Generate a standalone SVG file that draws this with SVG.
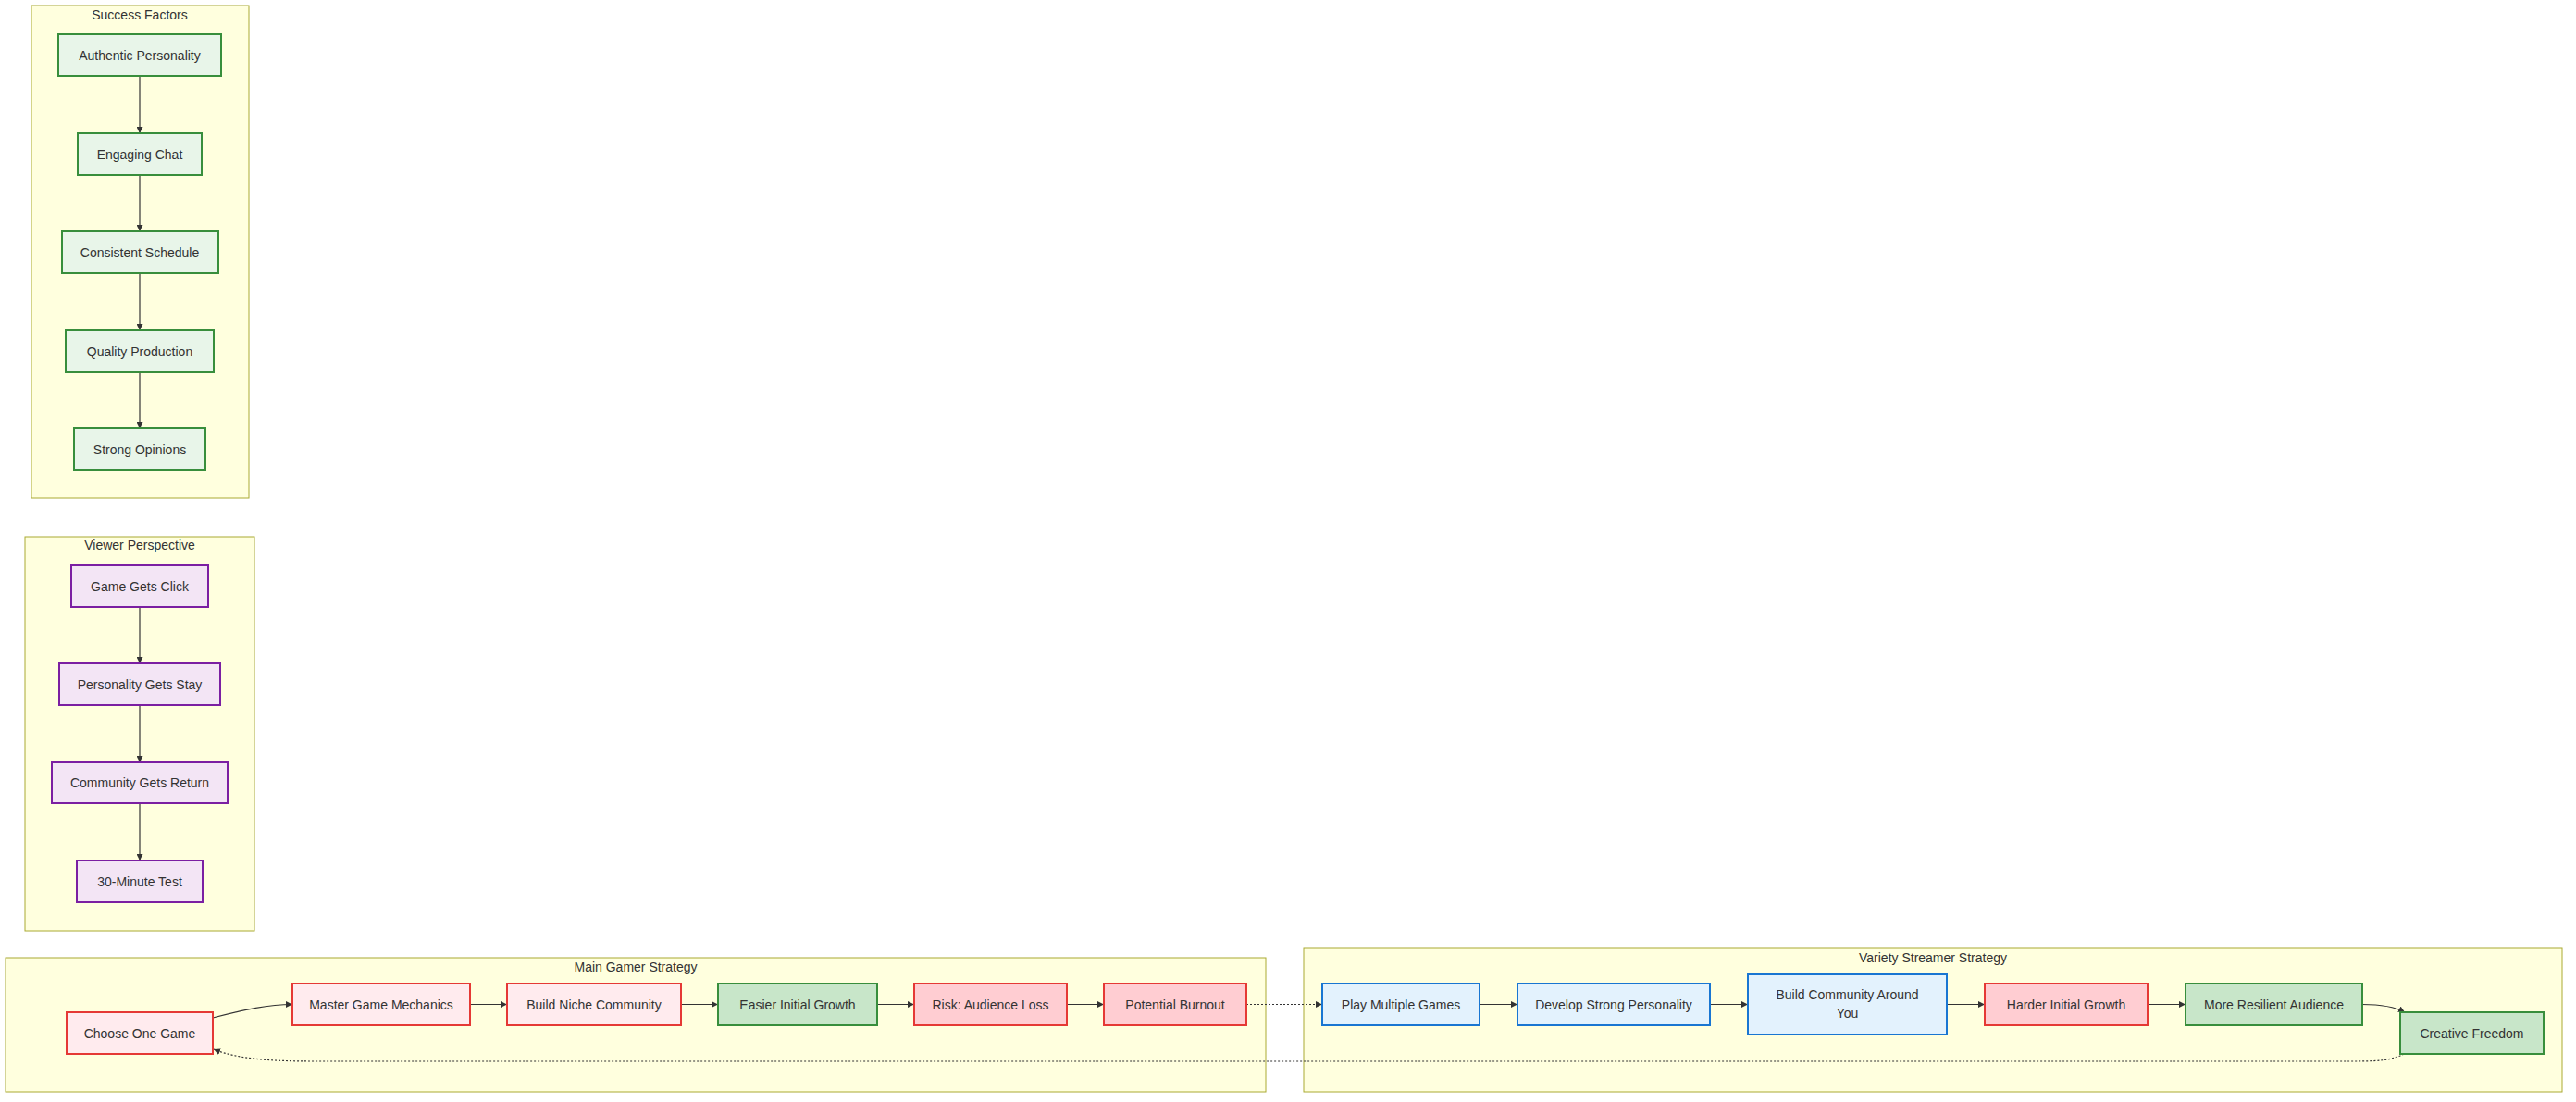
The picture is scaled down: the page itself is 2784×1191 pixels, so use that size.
<svg xmlns="http://www.w3.org/2000/svg" width="2784" height="1191" viewBox="0 0 2784 1191">
<style>
  text { font-family: "Trebuchet MS", "Liberation Sans", Arial, sans-serif; font-size: 14px; fill: #333; text-anchor: middle; dominant-baseline: central; }
  .cluster { fill: #ffffde; stroke: #aaaa33; stroke-width: 1; }
  .success { fill: #e8f5e9; stroke: #388e3c; stroke-width: 2; }
  .viewer { fill: #f3e5f5; stroke: #7b1fa2; stroke-width: 2; }
  .main { fill: #ffebee; stroke: #e53935; stroke-width: 2; }
  .risk { fill: #ffcdd2; stroke: #e53935; stroke-width: 2; }
  .good { fill: #c8e6c9; stroke: #388e3c; stroke-width: 2; }
  .variety { fill: #e3f2fd; stroke: #1976d2; stroke-width: 2; }
  .edge { fill: none; stroke: #333; stroke-width: 1.2; marker-end: url(#arrow); }
  .dotted { stroke-dasharray: 2 2; }
</style>
<defs>
  <marker id="arrow" viewBox="0 0 10 10" refX="10" refY="5" markerWidth="7" markerHeight="7" markerUnits="userSpaceOnUse" orient="auto">
    <path d="M0,0 L10,5 L0,10 z" fill="#333"/>
  </marker>
</defs>
<rect width="2784" height="1191" fill="#ffffff"/>

<g id="clusters">
  <g id="cluster-success"><rect class="cluster" x="34" y="6" width="235" height="532"/><text x="151" y="16">Success Factors</text></g>
  <g id="cluster-viewer"><rect class="cluster" x="27" y="580" width="248" height="426"/><text x="151" y="589">Viewer Perspective</text></g>
  <g id="cluster-main"><rect class="cluster" x="6" y="1035" width="1362" height="145"/><text x="687" y="1045">Main Gamer Strategy</text></g>
  <g id="cluster-variety"><rect class="cluster" x="1409" y="1025" width="1360" height="155"/><text x="2089" y="1035">Variety Streamer Strategy</text></g>
</g>

<g id="connectors">
  <path class="edge" d="M151,82 L151,144"/>
  <path class="edge" d="M151,189 L151,250"/>
  <path class="edge" d="M151,295 L151,357"/>
  <path class="edge" d="M151,402 L151,463"/>
  <path class="edge" d="M151,656 L151,717"/>
  <path class="edge" d="M151,762 L151,824"/>
  <path class="edge" d="M151,868 L151,930"/>
  <path class="edge" d="M230,1100 C265,1091 290,1085.5 316,1085.5"/>
  <path class="edge" d="M508,1085.5 L548,1085.5"/>
  <path class="edge" d="M736,1085.5 L776,1085.5"/>
  <path class="edge" d="M948,1085.5 L988,1085.5"/>
  <path class="edge" d="M1153,1085.5 L1193,1085.5"/>
  <path class="edge dotted" d="M1347,1085.5 L1429,1085.5"/>
  <path class="edge" d="M1599,1085.5 L1640,1085.5"/>
  <path class="edge" d="M1848,1085.5 L1889,1085.5"/>
  <path class="edge" d="M2104,1085.5 L2145,1085.5"/>
  <path class="edge" d="M2321,1085.5 L2362,1085.5"/>
  <path class="edge" d="M2553,1085.5 C2575,1085.5 2588,1088 2599,1094"/>
  <path class="edge dotted" d="M2598,1139 C2585,1146 2570,1147 2545,1147 L340,1147 C290,1147 255,1144 231,1134"/>
</g>

<g id="node-authentic"><rect class="success" x="63" y="37" width="176" height="45"/><text x="151" y="59.5">Authentic Personality</text></g>
<g id="node-engaging"><rect class="success" x="84" y="144" width="134" height="45"/><text x="151" y="166.5">Engaging Chat</text></g>
<g id="node-consistent"><rect class="success" x="67" y="250" width="169" height="45"/><text x="151" y="272.5">Consistent Schedule</text></g>
<g id="node-quality"><rect class="success" x="71" y="357" width="160" height="45"/><text x="151" y="379.5">Quality Production</text></g>
<g id="node-strong"><rect class="success" x="80" y="463" width="142" height="45"/><text x="151" y="485.5">Strong Opinions</text></g>

<g id="node-gameclick"><rect class="viewer" x="77" y="611" width="148" height="45"/><text x="151" y="633.5">Game Gets Click</text></g>
<g id="node-personalitystay"><rect class="viewer" x="64" y="717" width="174" height="45"/><text x="151" y="739.5">Personality Gets Stay</text></g>
<g id="node-communityreturn"><rect class="viewer" x="56" y="824" width="190" height="44"/><text x="151" y="846">Community Gets Return</text></g>
<g id="node-test"><rect class="viewer" x="83" y="930" width="136" height="45"/><text x="151" y="952.5">30-Minute Test</text></g>

<g id="node-choose"><rect class="main" x="72" y="1094" width="158" height="45"/><text x="151" y="1116.5">Choose One Game</text></g>
<g id="node-master"><rect class="main" x="316" y="1063" width="192" height="45"/><text x="412" y="1085.5">Master Game Mechanics</text></g>
<g id="node-niche"><rect class="main" x="548" y="1063" width="188" height="45"/><text x="642" y="1085.5">Build Niche Community</text></g>
<g id="node-easier"><rect class="good" x="776" y="1063" width="172" height="45"/><text x="862" y="1085.5">Easier Initial Growth</text></g>
<g id="node-risk"><rect class="risk" x="988" y="1063" width="165" height="45"/><text x="1070.5" y="1085.5">Risk: Audience Loss</text></g>
<g id="node-burnout"><rect class="risk" x="1193" y="1063" width="154" height="45"/><text x="1270" y="1085.5">Potential Burnout</text></g>

<g id="node-multiple"><rect class="variety" x="1429" y="1063" width="170" height="45"/><text x="1514" y="1085.5">Play Multiple Games</text></g>
<g id="node-develop"><rect class="variety" x="1640" y="1063" width="208" height="45"/><text x="1744" y="1085.5">Develop Strong Personality</text></g>
<g id="node-buildaround"><rect class="variety" x="1889" y="1053" width="215" height="65"/><text x="1996.5" y="1075">Build Community Around</text><text x="1996.5" y="1095">You</text></g>
<g id="node-harder"><rect class="risk" x="2145" y="1063" width="176" height="45"/><text x="2233" y="1085.5">Harder Initial Growth</text></g>
<g id="node-resilient"><rect class="good" x="2362" y="1063" width="191" height="45"/><text x="2457.5" y="1085.5">More Resilient Audience</text></g>
<g id="node-creative"><rect class="good" x="2594" y="1094" width="155" height="45"/><text x="2671.5" y="1116.5">Creative Freedom</text></g>
</svg>
